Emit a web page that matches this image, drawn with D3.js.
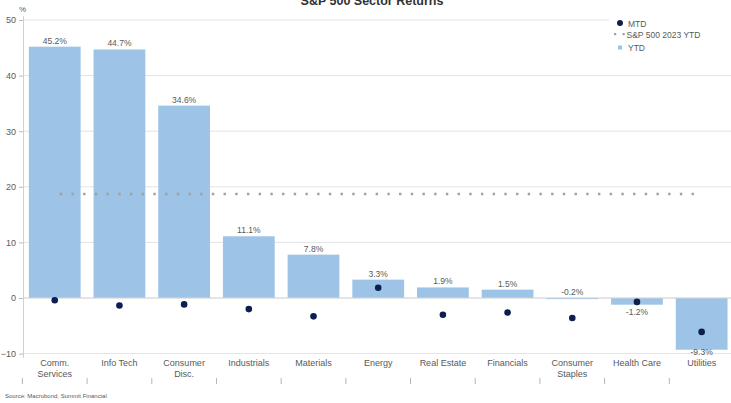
<!DOCTYPE html>
<html>
<head>
<meta charset="utf-8">
<script src="https://cdn.jsdelivr.net/npm/d3@7"></script>
<style>
  html, body { margin: 0; padding: 0; background: #fff; }
  svg { display: block; font-family: "Liberation Sans", Arial, sans-serif; }
</style>
</head>
<body>
<svg id="chart" width="731" height="403"></svg>
<script>
const categories = [["Comm.", "Services"], ["Info Tech"], ["Consumer", "Disc."], ["Industrials"], ["Materials"], ["Energy"], ["Real Estate"], ["Financials"], ["Consumer", "Staples"], ["Health Care"], ["Utilities"]];
const ytdValues = [45.2, 44.7, 34.6, 11.1, 7.8, 3.3, 1.9, 1.5, -0.2, -1.2, -9.3];
const mtdValues = [-0.4, -1.35, -1.15, -2.0, -3.3, 1.85, -3.0, -2.6, -3.6, -0.7, -6.1];
const spYtd = 18.7;
const yTicks = [-10, 0, 10, 20, 30, 40, 50];
const title = "S&P 500 Sector Returns";
const legendLabels = ["MTD", "S&P 500 2023 YTD", "YTD"];
const source = "Source: Macrobond, Summit Financial";

const svg = d3.select("#chart");
const keys = categories.map(c => c.join(" "));

const x = d3.scaleBand().domain(keys).range([22.4, 734]).paddingInner(0.2).paddingOuter(0.1);
const y = d3.scaleLinear().domain([-10, 50]).range([353.6, 20]);

const barColor = "#9dc3e6";
const dotColor = "#0c1f4e";
const textColor = "#595959";

// gridlines
svg.append("g").selectAll("line").data(yTicks).join("line")
  .attr("x1", 23).attr("x2", 734)
  .attr("y1", d => y(d)).attr("y2", d => y(d))
  .attr("stroke", "#e3e3e3").attr("stroke-width", 1);

// y axis
const yAxis = svg.append("g").attr("transform", "translate(23,0)")
  .call(d3.axisLeft(y).tickValues(yTicks).tickSize(4).tickPadding(3).tickFormat(d3.format("d")));
yAxis.select(".domain").attr("stroke", "#d0d0d0").attr("d", "M0.5,16V358");
yAxis.selectAll(".tick line").attr("stroke", "#bbb");
yAxis.selectAll(".tick text").attr("fill", textColor).attr("font-size", 9)
  .attr("font-family", "Liberation Sans, Arial, sans-serif");

svg.append("text").attr("x", 19).attr("y", 12).attr("font-size", 8).attr("fill", textColor).text("%");

// bars
svg.append("g").selectAll("rect").data(ytdValues).join("rect")
  .attr("x", (d, i) => x(keys[i]))
  .attr("width", x.bandwidth())
  .attr("y", d => y(Math.max(0, d)))
  .attr("height", d => Math.max(1, Math.abs(y(d) - y(0))))
  .attr("fill", barColor);

// zero line
svg.append("line").attr("x1", 23).attr("x2", 734).attr("y1", y(0)).attr("y2", y(0))
  .attr("stroke", "#d8d8d8").attr("stroke-width", 1);

// value labels
svg.append("g").selectAll("text").data(ytdValues).join("text")
  .attr("x", (d, i) => x(keys[i]) + x.bandwidth() / 2)
  .attr("y", d => d >= -0.5 ? y(Math.max(d, 0)) - 3 : Math.min(y(d) + 10, 354.5))
  .attr("text-anchor", "middle")
  .attr("font-size", 8.5).attr("fill", textColor)
  .text(d => d.toFixed(1) + "%");

// S&P YTD dotted line
const c0 = x(keys[0]) + x.bandwidth() / 2;
const c1 = x(keys[keys.length - 1]) + x.bandwidth() / 2;
svg.append("line")
  .attr("x1", c0 + 5).attr("x2", c1)
  .attr("y1", y(spYtd)).attr("y2", y(spYtd))
  .attr("stroke", "#a0a0a0").attr("stroke-width", 2.4)
  .attr("stroke-dasharray", "2.4,9.3");

// MTD dots
svg.append("g").selectAll("circle").data(mtdValues).join("circle")
  .attr("cx", (d, i) => x(keys[i]) + x.bandwidth() / 2)
  .attr("cy", d => y(d))
  .attr("r", 3.3)
  .attr("fill", dotColor);

// category labels
const cat = svg.append("g");
categories.forEach((lines, i) => {
  const t = cat.append("text")
    .attr("x", x(keys[i]) + x.bandwidth() / 2)
    .attr("y", 366)
    .attr("text-anchor", "middle")
    .attr("font-size", 9).attr("fill", textColor);
  lines.forEach((ln, j) => {
    t.append("tspan").attr("x", x(keys[i]) + x.bandwidth() / 2).attr("dy", j === 0 ? 0 : 10.5).text(ln);
  });
});

// bottom ticks at band boundaries
const step = x.step();
const bounds = keys.map((k, i) => x(keys[0]) - x.paddingOuter() * step + i * step);
svg.append("g").selectAll("line").data(bounds).join("line")
  .attr("x1", d => d).attr("x2", d => d)
  .attr("y1", 378).attr("y2", 384)
  .attr("stroke", "#b5b5b5").attr("stroke-width", 1);

// legend
svg.append("rect").attr("x", 609).attr("y", 12).attr("width", 122).attr("height", 46).attr("fill", "#fff");
const lg = svg.append("g").attr("font-size", 8.5).attr("fill", textColor);
lg.append("circle").attr("cx", 620).attr("cy", 23).attr("r", 3).attr("fill", dotColor);
lg.append("text").attr("x", 628).attr("y", 26.5).text(legendLabels[0]);
lg.append("rect").attr("x", 614).attr("y", 33).attr("width", 2.2).attr("height", 2.2).attr("fill", "#a0a0a0");
lg.append("rect").attr("x", 622.5).attr("y", 33).attr("width", 2.2).attr("height", 2.2).attr("fill", "#a0a0a0");
lg.append("text").attr("x", 626.5).attr("y", 38).text(legendLabels[1]);
lg.append("rect").attr("x", 618).attr("y", 45.5).attr("width", 4).attr("height", 4).attr("fill", barColor);
lg.append("text").attr("x", 628).attr("y", 50.5).text(legendLabels[2]);

// title (cut off at top, as in the reference)
svg.append("text").attr("x", 372).attr("y", 5).attr("text-anchor", "middle")
  .attr("font-size", 12.5).attr("font-weight", "bold").attr("fill", "#333").text(title);

// source
svg.append("text").attr("x", 5).attr("y", 398).attr("font-size", 6).attr("fill", textColor).text(source);
</script>
</body>
</html>
